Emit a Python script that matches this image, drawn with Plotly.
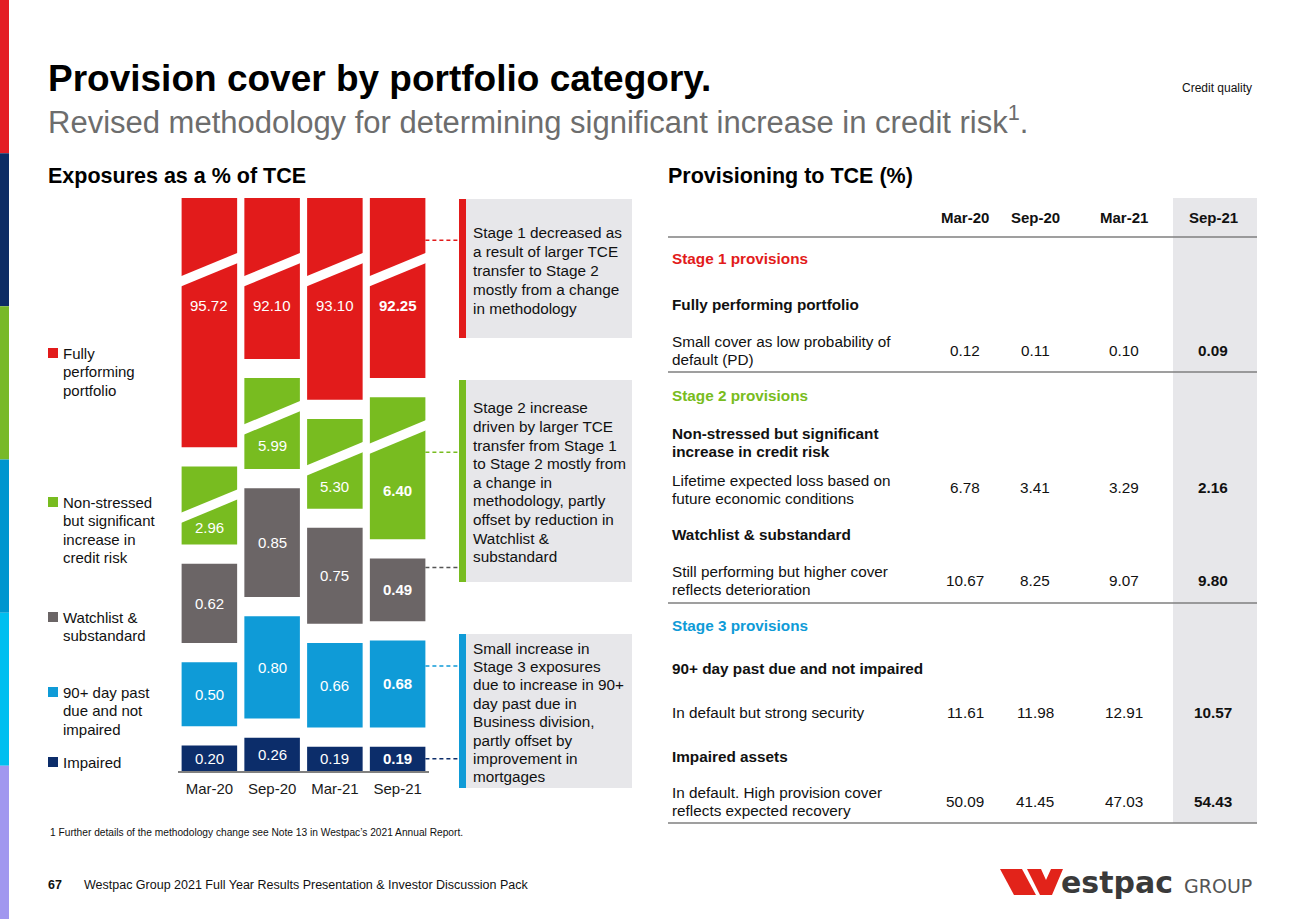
import plotly.graph_objects as go

W, H = 1300, 919
FONT = "Liberation Sans, Arial, Helvetica, sans-serif"

# ---------------- data ----------------
periods = ["Mar-20", "Sep-20", "Mar-21", "Sep-21"]
fully_performing = [95.72, 92.10, 93.10, 92.25]
non_stressed_sicr = [2.96, 5.99, 5.30, 6.40]
watchlist_substandard = [0.62, 0.85, 0.75, 0.49]
past_due_90 = [0.50, 0.80, 0.66, 0.68]
impaired = [0.20, 0.26, 0.19, 0.19]

table_periods = ["Mar-20", "Sep-20", "Mar-21", "Sep-21"]
prov_fully_performing = [0.12, 0.11, 0.10, 0.09]
prov_non_stressed = [6.78, 3.41, 3.29, 2.16]
prov_watchlist = [10.67, 8.25, 9.07, 9.80]
prov_past_due_90 = [11.61, 11.98, 12.91, 10.57]
prov_impaired = [50.09, 41.45, 47.03, 54.43]

# ---------------- styles ----------------
RED = "#e21b1b"
GREEN = "#78bc20"
GREY = "#6b6566"
BLUE = "#0f9bd7"
NAVY = "#0c2d6a"
BOX = "#e7e7ea"
TXT = "#111111"
STRIP = ["#e41d24", "#0d2c64", "#78b928", "#0096cf", "#00bff0", "#a197ef"]

# display geometry of the broken-scale bar chart (units of % of TCE)
X_DOM = (178, 429)
Y_BASE_PX, Y_TOP_PX = 771, 198
TOP = 4.477             # visible top of the axis (above the break)
GAP = 0.15              # white gap between stacked segments
BAR_W = 0.885
GREEN_SHOWN = [0.61, 0.71, 0.70, 1.11]   # visible part of broken green bars
RED_BREAK_DROP = 0.65
GREEN_BREAK_DROP = 0.40
BREAK_RISE = 0.18
BREAK_THICK = 0.08


def X(px):
    return px / W


def Y(py):
    return 1 - py / H


fig = go.Figure()
n = len(periods)
xs = list(range(n))

# ---- stacked segments ----
segs = []
cur = [0.0] * n
for name, color, vals in [("Impaired", NAVY, impaired),
                          ("90+ day past due and not impaired", BLUE, past_due_90),
                          ("Watchlist & substandard", GREY, watchlist_substandard)]:
    bases = [c if c == 0 else c + GAP for c in cur]
    heights = list(vals)
    segs.append((name, color, bases, heights, vals))
    cur = [b + h for b, h in zip(bases, heights)]

g_bases = [c + GAP for c in cur]
segs.append(("Non-stressed but significant increase in credit risk", GREEN, g_bases, GREEN_SHOWN, non_stressed_sicr))
cur = [b + h for b, h in zip(g_bases, GREEN_SHOWN)]
r_bases = [c + GAP for c in cur]
r_heights = [TOP - b for b in r_bases]
segs.append(("Fully performing portfolio", RED, r_bases, r_heights, fully_performing))

for name, color, bases, heights, vals in segs:
    fig.add_trace(go.Bar(x=xs, y=heights, base=bases, width=BAR_W, name=name,
                         marker=dict(color=color, line=dict(width=0)),
                         hoverinfo="skip", showlegend=False))

# ---- break bands (white diagonal cuts) ----
half = BAR_W / 2
slope = BREAK_RISE / BAR_W


def band(i, yl):
    x0, x1 = i - half - 0.05, i + half + 0.05
    yc0 = yl + slope * (x0 - (i - half))
    yc1 = yl + slope * (x1 - (i - half))
    t = BREAK_THICK / 2
    fig.add_trace(go.Scatter(x=[x0, x1, x1, x0, x0],
                             y=[yc0 - t, yc1 - t, yc1 + t, yc0 + t, yc0 - t],
                             mode="lines", fill="toself", fillcolor="white",
                             line=dict(width=0, color="white"),
                             hoverinfo="skip", showlegend=False))


green_break = []
red_break = []
for i in xs:
    gtop = g_bases[i] + GREEN_SHOWN[i]
    gy = gtop - GREEN_BREAK_DROP
    green_break.append(gy)
    band(i, gy)
    ry = TOP - RED_BREAK_DROP
    red_break.append(ry)
    band(i, ry)

# ---- value labels ----
def fmt(v, i):
    s = f"{v:.2f}"
    return f"<b>{s}</b>" if i == n - 1 else s


def vlabel(i, y, v):
    fig.add_annotation(x=i, y=y, xref="x", yref="y", text=fmt(v, i), showarrow=False,
                       font=dict(size=15, color="white", family=FONT),
                       xanchor="center", yanchor="middle")


for name, color, bases, heights, vals in segs[:3]:
    for i in xs:
        vlabel(i, bases[i] + heights[i] / 2, vals[i])
for i in xs:
    vlabel(i, (g_bases[i] + green_break[i] + 0.05) / 2, non_stressed_sicr[i])
    vlabel(i, red_break[i] - 0.19, fully_performing[i])

# ---- axes ----
fig.update_layout(
    xaxis=dict(domain=[X(X_DOM[0]), X(X_DOM[1])], range=[-0.5, n - 0.5],
               tickmode="array", tickvals=xs, ticktext=periods,
               showline=True, linecolor="#808080", linewidth=2,
               showgrid=False, zeroline=False, ticks="", ticklabelstandoff=3,
               tickfont=dict(size=15, color="#1a1a1a", family=FONT), fixedrange=True),
    yaxis=dict(domain=[Y(Y_BASE_PX), Y(Y_TOP_PX)], range=[0, TOP], visible=False,
               showgrid=False, zeroline=False, fixedrange=True),
    barmode="overlay",
)

# ---------------- shapes & text helpers ----------------
def rect(x0, y0, x1, y1, color):
    fig.add_shape(type="rect", xref="paper", yref="paper",
                  x0=X(x0), x1=X(x1), y0=Y(y1), y1=Y(y0),
                  fillcolor=color, line=dict(width=0), layer="below")


def hline(x0, x1, y, color="#7f7f7f", width=1.5):
    fig.add_shape(type="line", xref="paper", yref="paper",
                  x0=X(x0), x1=X(x1), y0=Y(y), y1=Y(y),
                  line=dict(color=color, width=width))


def text(x, y, s, size=15, color=TXT, bold=False, anchor="left", family=FONT):
    if bold:
        s = f"<b>{s}</b>"
    fig.add_annotation(x=X(x), y=Y(y), xref="paper", yref="paper", text=s,
                       showarrow=False, xanchor=anchor, yanchor="middle",
                       font=dict(size=size, color=color, family=family))


def lines(x, y0, step, items, **kw):
    for k, s in enumerate(items):
        text(x, y0 + k * step, s, **kw)


# left colour strip
for k, c in enumerate(STRIP):
    rect(0, k * H / 6, 9, (k + 1) * H / 6, c)

# titles
text(46, 78, "Provision cover by portfolio category.", size=37, bold=True, color="#000000")
text(46, 120, "Revised methodology for determining significant increase in credit risk<sup>1</sup>.",
     size=31, color="#6d6d6d")
text(1254, 88, "Credit quality", size=12, color="#111", anchor="right")
text(46, 176, "Exposures as a % of TCE", size=21.5, bold=True, color="#000000")
text(666, 176, "Provisioning to TCE (%)", size=21.5, bold=True, color="#000000")

# legend
legend = [
    (RED, 353, ["Fully", "performing", "portfolio"]),
    (GREEN, 502, ["Non-stressed", "but significant", "increase in", "credit risk"]),
    (GREY, 617, ["Watchlist &", "substandard"]),
    (BLUE, 692, ["90+ day past", "due and not", "impaired"]),
    (NAVY, 762, ["Impaired"]),
]
for color, yc, items in legend:
    rect(48, yc - 5, 58, yc + 5, color)
    lines(61, yc, 18.5, items)

# callout boxes
callouts = [
    (RED, 199, 338, 233, 18.75, ["Stage 1 decreased as", "a result of larger TCE",
                                 "transfer to Stage 2", "mostly from a change", "in methodology"]),
    (GREEN, 380, 582, 408, 18.6, ["Stage 2 increase", "driven by larger TCE",
                                  "transfer from Stage 1", "to Stage 2 mostly from",
                                  "a change in", "methodology, partly",
                                  "offset by reduction in", "Watchlist &", "substandard"]),
    (BLUE, 634, 788, 648, 18.4, ["Small increase in", "Stage 3 exposures",
                                 "due to increase in 90+", "day past due in",
                                 "Business division,", "partly offset by",
                                 "improvement in", "mortgages"]),
]
for color, y0, y1, ty, step, items in callouts:
    rect(466, y0, 632, y1, BOX)
    rect(459, y0, 466, y1, color)
    lines(471, ty, step, items, size=15.3)

# dashed connectors from the latest bar to the callouts
xd0, xd1 = X(X_DOM[0]), X(X_DOM[1])
bar_right = xd0 + (n - 1 + half + 0.5) / n * (xd1 - xd0)
last = n - 1
wl_top = segs[2][2][last] + segs[2][3][last]
pd_top = segs[1][2][last] + segs[1][3][last]
connectors = [
    (RED, TOP - 0.33),
    (GREEN, green_break[last] - 0.03),
    ("#555555", wl_top - 0.07),
    (BLUE, pd_top - 0.2),
    (NAVY, impaired[last] / 2),
]
for color, yv in connectors:
    fig.add_shape(type="line", xref="paper", yref="y", x0=bar_right, x1=X(459),
                  y0=yv, y1=yv, line=dict(color=color, width=1.5, dash="4px,3px"))

# ---------------- table ----------------
COLX = [965, 1035, 1124, 1213]
rect(1173, 198, 1257, 823, BOX)
for k, p in enumerate(table_periods):
    text(COLX[k], 217, p, bold=True, anchor="center")
hline(668, 1257, 237)
hline(668, 1257, 372)
hline(668, 1257, 603)
hline(668, 1257, 823)

TX = 670
TS = 15.3
text(TX, 259, "Stage 1 provisions", bold=True, color=RED, size=TS)
text(TX, 304, "Fully performing portfolio", bold=True, size=TS)
lines(TX, 341, 18.5, ["Small cover as low probability of", "default (PD)"], size=TS)

text(TX, 395, "Stage 2 provisions", bold=True, color=GREEN, size=TS)
lines(TX, 433, 18.5, ["Non-stressed but significant", "increase in credit risk"], bold=True, size=TS)
lines(TX, 480, 18.0, ["Lifetime expected loss based on", "future economic conditions"], size=TS)
text(TX, 534, "Watchlist & substandard", bold=True, size=TS)
lines(TX, 571, 18.0, ["Still performing but higher cover", "reflects deterioration"], size=TS)

text(TX, 625, "Stage 3 provisions", bold=True, color=BLUE, size=TS)
text(TX, 668, "90+ day past due and not impaired", bold=True, size=TS)
text(TX, 712, "In default but strong security", size=TS)
text(TX, 756, "Impaired assets", bold=True, size=TS)
lines(TX, 792, 18.5, ["In default. High provision cover", "reflects expected recovery"], size=TS)

for yv, vals in [(350, prov_fully_performing), (488, prov_non_stressed),
                 (580, prov_watchlist), (712, prov_past_due_90), (801, prov_impaired)]:
    for k, v in enumerate(vals):
        text(COLX[k], yv, f"{v:.2f}", bold=(k == len(vals) - 1), anchor="center", size=TS)

# ---------------- footer ----------------
text(48, 832, "1 Further details of the methodology change see Note 13 in Westpac\u2019s 2021 Annual Report.",
     size=10.2)
text(46, 885, "67", size=12.5, bold=True)
text(82, 885, "Westpac Group 2021 Full Year Results Presentation &amp; Investor Discussion Pack", size=12.5)

# logo
def poly(pts, color):
    path = "M " + " L ".join(f"{X(px):.5f},{Y(py):.5f}" for px, py in pts) + " Z"
    fig.add_shape(type="path", xref="paper", yref="paper", path=path,
                  fillcolor=color, line=dict(width=0))


poly([(1000, 869), (1022, 869), (1036, 895), (1014, 895)], "#e2231a")
poly([(1027, 869), (1041, 869), (1046, 880), (1051, 869), (1063, 869), (1052, 895), (1040, 895)], "#e2231a")
text(1059, 882, "estpac", size=30, bold=True, color="#3a3a3a", family="DejaVu Sans")
text(1182, 886, "GROUP", size=19, color="#555555", family="DejaVu Sans")

fig.update_layout(
    width=W, height=H, margin=dict(l=0, r=0, t=0, b=0),
    paper_bgcolor="white", plot_bgcolor="rgba(0,0,0,0)",
    font=dict(family=FONT, color=TXT), showlegend=False, hovermode=False,
)

fig.write_html("out.html", config={"displayModeBar": False, "staticPlot": True},
               post_script="document.body.style.margin='0';document.body.style.padding='0';"
                           "document.body.style.overflow='hidden';")
